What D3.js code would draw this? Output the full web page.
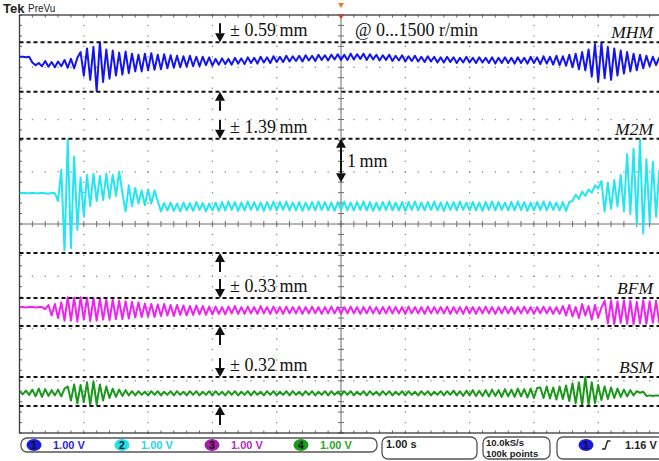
<!DOCTYPE html>
<html>
<head>
<meta charset="utf-8">
<script src="https://cdn.jsdelivr.net/npm/d3@7"></script>
<style>
body { margin: 0; background: #fff; }
svg { display: block; }
</style>
</head>
<body>
<div id="chart"></div>
<script>
var width = 659;
var height = 461;

// scope settings: 1.00 V/div, 1.00 s/div, 10 x 8 divisions
var dt = 0.05; // s between stored samples
var channelNames = ["MHM", "M2M", "BFM", "BSM"];
var amplitudeLabels = ["\u00b1 0.59\u2009mm", "\u00b1 1.39\u2009mm", "\u00b1 0.33\u2009mm", "\u00b1 0.32\u2009mm"];
var channelOffsets = [3.14, 0.34, -1.65, -3.23]; // div
var cursorHigh = [3.48, 1.63, -1.416, -2.928];  // div
var cursorLow = [2.53, -0.555, -1.952, -3.483];  // div
var refSpan = [1.63, 0.8]; // "1 mm" marker, div
var colors = ["#1414f0", "#22e6f0", "#f022f0", "#1a981a"];
var chipColors = ["#1a1ad8", "#22e0ec", "#a020a8", "#1a9a1a"];
var textColors = ["#2a2ad0", "#2ad4e4", "#b030c0", "#2aa82a"];
var voltsPerDiv = ["1.00 V", "1.00 V", "1.00 V", "1.00 V"];
var timeBase = "1.00 s";
var sampleRate = ["10.0kS/s", "100k points"];
var triggerLevel = "1.16 V";

// traces in volts, relative to channel offset
var mhm = [0.06,0.06,0.05,0.06,
  -0.05,-0.1,-0.06,-0.12,
  -0.02,-0.13,-0.04,-0.14,-0.03,-0.12,0.0,-0.15,0.02,-0.16,0.04,
  0.15,-0.3,0.22,-0.38,0.25,-0.6,0.34,-0.42,0.2,-0.36,
  0.18,-0.3,0.14,-0.28,0.16,-0.25,0.12,-0.22,0.1,
  -0.22,0.12,-0.2,0.13,-0.19,0.1,-0.18,0.11,-0.16,0.09,-0.15,
  0.08,-0.14,0.07,-0.13,0.08,-0.12,0.06,-0.12,0.06,-0.1,0.05,-0.11,
  0.02,-0.09,0.03,-0.08,0.02,-0.09,0.04,-0.07,0.03,-0.08,
  0.05,-0.06,0.04,-0.07,0.06,-0.05,0.05,-0.06,0.07,-0.04,
  0.06,-0.04,0.08,-0.03,0.07,-0.02,0.08,-0.03,0.09,-0.01,
  0.08,-0.02,0.1,0.0,0.09,-0.01,0.1,0.01,0.11,0.0,
  0.1,0.0,0.12,0.01,0.11,0.02,0.12,0.0,0.11,0.01,
  0.1,-0.01,0.09,0.0,0.1,-0.02,0.08,-0.01,0.09,-0.03,
  0.07,-0.02,0.08,-0.03,0.06,-0.04,0.07,-0.03,0.06,-0.05,
  0.05,-0.05,0.06,-0.04,0.05,-0.06,0.04,-0.05,0.06,-0.05,
  0.04,-0.06,0.05,-0.05,0.04,-0.06,0.05,-0.07,0.04,-0.06,
  0.05,-0.06,0.04,-0.07,0.05,-0.06,0.04,-0.07,0.06,-0.06,
  0.05,-0.08,0.07,-0.07,0.06,-0.09,0.08,-0.1,0.07,-0.11,
  0.1,-0.14,0.12,-0.18,0.15,-0.2,0.2,
  -0.32,0.3,-0.42,0.32,-0.35,0.25,-0.38,0.22,-0.3,
  0.18,-0.26,0.15,-0.22,0.12,-0.2,0.1,-0.16,0.08,
  -0.12,0.06,-0.1,0.05];

var m2m = [0.25,0.26,0.25,0.25,0.26,0.25,0.25,0.26,0.25,0.24,0.26,0.25,
  0.1,0.7,-0.84,1.28,-0.8,0.95,-0.45,
  0.55,-0.2,0.6,0.0,0.62,0.1,0.58,0.12,0.62,0.15,0.6,0.2,0.66,0.25,
  -0.1,0.4,0.0,0.35,0.05,0.3,0.02,0.32,0.05,0.3,0.1,
  -0.1,0.06,-0.08,0.07,-0.09,0.05,-0.1,0.07,-0.08,0.06,-0.09,0.08,-0.07,0.06,-0.1,0.05,-0.08,0.07,-0.09,
  0.08,-0.08,0.09,-0.07,0.08,-0.09,0.07,-0.08,0.09,-0.07,
  0.08,-0.08,0.07,-0.09,0.08,-0.07,0.09,-0.08,0.08,-0.07,
  0.09,-0.08,0.07,-0.08,0.08,-0.09,0.07,-0.07,0.08,-0.08,
  0.09,-0.07,0.08,-0.08,0.07,-0.09,0.08,-0.07,0.09,-0.08,
  0.07,-0.08,0.08,-0.07,0.09,-0.08,0.08,-0.09,0.07,-0.08,
  0.08,-0.07,0.09,-0.08,0.07,-0.08,0.08,-0.09,0.08,-0.07,
  0.09,-0.08,0.07,-0.08,0.08,-0.07,0.09,-0.08,0.07,-0.09,
  0.08,-0.07,0.08,-0.08,0.09,-0.07,0.07,-0.08,0.08,-0.08,
  0.07,-0.09,0.08,-0.07,0.09,-0.08,0.08,-0.07,0.07,-0.08,
  0.08,-0.08,0.09,-0.07,0.08,-0.09,0.07,-0.08,0.08,-0.07,
  0.09,-0.08,0.08,-0.07,0.07,-0.08,0.08,-0.09,0.08,
  0.1,0.22,0.14,0.28,0.2,0.32,0.26,0.4,0.34,0.48,
  -0.1,0.45,-0.05,0.5,0.0,0.6,-0.1,1.0,-0.15,1.1,-0.35,1.28,-0.52,0.9,-0.3,0.85,-0.2,0.7];

var bfm = [0.06,0.06,0.05,0.06,0.06,0.05,0.06,0.06,
  0.02,0.1,-0.1,0.12,-0.15,0.15,-0.2,
  0.25,-0.2,0.24,-0.22,0.25,-0.18,0.24,-0.21,0.23,-0.2,0.22,
  -0.18,0.2,-0.19,0.2,-0.17,0.18,-0.17,0.17,-0.16,0.16,-0.14,0.15,
  -0.13,0.13,-0.12,0.12,-0.13,0.11,-0.11,0.12,-0.1,0.1,-0.11,0.1,-0.09,0.09,-0.1,0.08,-0.09,0.09,-0.08,0.08,-0.09,0.07,-0.08,
  0.07,-0.07,0.06,-0.08,0.07,-0.06,0.08,-0.07,0.06,-0.07,
  0.07,-0.06,0.06,-0.07,0.08,-0.06,0.06,-0.07,0.07,-0.06,
  0.06,-0.07,0.07,-0.06,0.06,-0.06,0.07,-0.07,0.06,-0.06,
  0.07,-0.06,0.06,-0.07,0.06,-0.06,0.07,-0.06,0.06,-0.07,
  0.06,-0.06,0.07,-0.06,0.06,-0.07,0.06,-0.06,0.07,-0.06,
  0.06,-0.07,0.06,-0.06,0.07,-0.06,0.06,-0.06,0.06,-0.07,
  0.07,-0.06,0.06,-0.06,0.06,-0.07,0.07,-0.06,0.06,-0.06,
  0.06,-0.06,0.07,-0.07,0.06,-0.06,0.06,-0.07,0.07,-0.06,
  0.06,-0.07,0.06,-0.06,0.07,-0.06,0.06,-0.07,0.06,-0.06,
  0.07,-0.06,0.06,-0.07,0.06,-0.06,0.07,-0.06,0.06,-0.07,
  0.06,-0.06,0.07,-0.06,0.06,-0.07,0.06,
  -0.07,0.08,-0.1,0.1,-0.12,0.06,-0.15,0.12,-0.1,0.08,-0.18,0.1,-0.14,0.05,
  0.18,-0.25,0.19,-0.27,0.17,-0.24,0.19,-0.26,0.18,-0.27,0.16,-0.25,0.19,-0.26,0.17,-0.24,0.18,-0.25];

var bsm = [0.03,-0.03,0.04,-0.04,0.06,-0.07,0.08,-0.08,0.07,-0.06,0.05,-0.05,0.06,-0.07,0.08,
  0.12,-0.15,0.16,-0.2,0.15,-0.18,0.2,-0.23,0.22,-0.22,
  0.16,-0.15,0.12,-0.1,0.08,-0.08,0.06,-0.06,0.05,-0.05,
  0.03,-0.05,0.03,-0.04,0.02,-0.05,0.03,-0.04,0.03,-0.05,
  0.02,-0.04,0.03,-0.05,0.03,-0.04,0.02,-0.05,0.03,-0.04,
  0.03,-0.05,0.02,-0.04,0.03,-0.05,0.03,-0.04,0.02,-0.05,
  0.03,-0.04,0.03,-0.05,0.02,-0.04,0.03,-0.05,0.03,-0.04,
  0.02,-0.05,0.03,-0.04,0.03,-0.05,0.02,-0.04,0.03,-0.05,
  0.03,-0.04,0.02,-0.05,0.03,-0.04,0.03,-0.05,0.02,-0.04,
  0.03,-0.05,0.03,-0.04,0.02,-0.05,0.03,-0.04,0.03,-0.05,
  0.02,-0.04,0.03,-0.05,0.03,-0.04,0.02,-0.05,0.03,-0.04,
  0.03,-0.05,0.02,-0.04,0.03,-0.05,0.03,-0.04,0.02,-0.05,
  0.03,-0.04,0.03,-0.05,0.02,-0.04,0.03,-0.05,0.03,-0.04,
  0.04,-0.05,0.03,-0.06,0.04,-0.05,0.05,-0.06,0.04,-0.06,
  0.05,-0.07,0.06,-0.06,0.05,-0.08,0.07,-0.07,0.06,-0.08,
  0.08,-0.07,0.07,-0.09,0.08,-0.1,0.09,
  0.1,-0.1,0.12,-0.11,0.1,-0.13,0.12,-0.12,0.14,
  -0.16,0.18,-0.2,0.2,-0.24,0.3,-0.23,0.2,-0.2,
  0.15,-0.14,0.12,-0.12,0.1,-0.1,0.08,-0.08,0.06,-0.07,0.05,-0.05,
  0.03,0.0,0.02,-0.06,-0.05,-0.06,-0.05,-0.06];

var traces = [mhm, m2m, bfm, bsm];

// layout
var plot = { left: 19.5, right: 662.5, top: 15, bottom: 433 };
var arrowX = 220, labelX = 230, arrowLen = 19;

var x = d3.scaleLinear().domain([0, 10]).range([plot.left, plot.right]);
var y = d3.scaleLinear().domain([-4, 4]).range([plot.bottom, plot.top]);

var svg = d3.select("#chart").append("svg")
  .attr("width", width)
  .attr("height", height)
  .style("font-family", "'Liberation Serif', serif");

svg.append("defs").append("clipPath").attr("id", "clip")
  .append("rect")
  .attr("x", plot.left).attr("y", plot.top)
  .attr("width", plot.right - plot.left).attr("height", plot.bottom - plot.top);

// dotted graticule
var minorX = d3.range(0, 10.001, 0.2);
var minorY = d3.range(-4, 4.001, 0.2);
var grid = svg.append("g").attr("fill", "#8a8a8a");
d3.range(1, 10).forEach(function(k) {
  if (k === 5) return;
  grid.selectAll(null).data(minorY).enter().append("rect")
    .attr("x", x(k) - 0.6).attr("y", d => y(d) - 0.6)
    .attr("width", 1.3).attr("height", 1.3);
});
d3.range(-3, 4).forEach(function(k) {
  if (k === 0) return;
  grid.selectAll(null).data(minorX).enter().append("rect")
    .attr("x", d => x(d) - 0.6).attr("y", y(k) - 0.6)
    .attr("width", 1.3).attr("height", 1.3);
});

// centre cross with ticks
var cross = svg.append("g").attr("stroke", "#6e6e6e").attr("stroke-width", 1);
cross.append("line").attr("x1", plot.left).attr("x2", plot.right).attr("y1", y(0)).attr("y2", y(0));
cross.append("line").attr("x1", x(5)).attr("x2", x(5)).attr("y1", plot.top).attr("y2", plot.bottom);
cross.selectAll(null).data(minorX).enter().append("line")
  .attr("x1", d => x(d)).attr("x2", d => x(d)).attr("y1", y(0) - 3).attr("y2", y(0) + 3);
cross.selectAll(null).data(minorY).enter().append("line")
  .attr("x1", x(5) - 3).attr("x2", x(5) + 3).attr("y1", d => y(d)).attr("y2", d => y(d));

// border with ticks
var border = svg.append("g").attr("stroke", "#3a3a3a");
border.append("rect")
  .attr("x", plot.left).attr("y", plot.top)
  .attr("width", plot.right - plot.left).attr("height", plot.bottom - plot.top)
  .attr("fill", "none").attr("stroke-width", 1.3);
border.selectAll(null).data(minorX).enter().append("line")
  .attr("stroke-width", 0.8)
  .attr("x1", d => x(d)).attr("x2", d => x(d)).attr("y1", plot.top).attr("y2", plot.top + 2.5);
border.selectAll(null).data(minorX).enter().append("line")
  .attr("stroke-width", 0.8)
  .attr("x1", d => x(d)).attr("x2", d => x(d)).attr("y1", plot.bottom).attr("y2", plot.bottom - 2.5);
border.selectAll(null).data(minorY).enter().append("line")
  .attr("stroke-width", 0.8)
  .attr("x1", plot.left).attr("x2", plot.left + 2.5).attr("y1", d => y(d)).attr("y2", d => y(d));

// traces
var traceG = svg.append("g").attr("clip-path", "url(#clip)");
traces.forEach(function(tr, c) {
  var line = d3.line()
    .x((d, i) => x(i * dt))
    .y(d => y(channelOffsets[c] + d));
  traceG.append("path")
    .datum(tr)
    .attr("d", line)
    .attr("fill", "none")
    .attr("stroke", colors[c])
    .attr("stroke-width", 2)
    .attr("stroke-linejoin", "round");
});

// cursor lines
var cursors = cursorHigh.concat(cursorLow);
svg.append("g").selectAll("line").data(cursors).enter().append("line")
  .attr("x1", plot.left).attr("x2", width)
  .attr("y1", d => y(d)).attr("y2", d => y(d))
  .attr("stroke", "#111").attr("stroke-width", 2)
  .attr("stroke-dasharray", "4,3");

function arrow(g, ax, tipY, dir, len) {
  // dir = +1 points down, -1 points up
  var tailY = tipY - dir * (len || arrowLen);
  var headY = tipY - dir * 9;
  g.append("line").attr("x1", ax).attr("x2", ax).attr("y1", tailY).attr("y2", headY)
    .attr("stroke", "#111").attr("stroke-width", 2);
  g.append("path")
    .attr("d", "M" + (ax - 5) + "," + headY + "L" + (ax + 5) + "," + headY + "L" + ax + "," + tipY + "Z")
    .attr("fill", "#111");
}

var ann = svg.append("g");
channelNames.forEach(function(name, c) {
  var hi = y(cursorHigh[c]), lo = y(cursorLow[c]);
  arrow(ann, arrowX, hi, 1);
  arrow(ann, arrowX, lo, -1);
  ann.append("text").attr("x", labelX).attr("y", hi - 6)
    .attr("font-size", 18).attr("fill", "#111").text(amplitudeLabels[c]);
  ann.append("text").attr("x", 653).attr("y", hi - 4)
    .attr("text-anchor", "end").attr("font-style", "italic")
    .attr("font-size", 17.5).attr("fill", "#111").text(name);
});

// 1 mm reference
var top1 = y(refSpan[0]), bot1 = y(refSpan[1]);
var mid = (top1 + bot1) / 2;
arrow(ann, x(5), top1, -1, mid - top1);
arrow(ann, x(5), bot1, 1, bot1 - mid);
ann.append("text").attr("x", x(5) + 6).attr("y", mid + 6)
  .attr("font-size", 18).attr("fill", "#111").text("1\u2009mm");

ann.append("text").attr("x", 355).attr("y", y(cursorHigh[0]) - 6)
  .attr("font-size", 18).attr("fill", "#111").text("@ 0...1500 r/min");

// trigger position markers
svg.append("path").attr("d", "M" + (x(5) - 3) + ",3L" + (x(5) + 3) + ",3L" + x(5) + ",8Z").attr("fill", "#f07a20");
svg.append("path").attr("d", "M" + (x(5) - 3) + "," + plot.top + "L" + (x(5) + 3) + "," + plot.top + "L" + x(5) + "," + (plot.top + 4) + "Z").attr("fill", "#e8401a");

// Tek header
var head = svg.append("g").style("font-family", "'Liberation Sans', Arial, sans-serif").attr("fill", "#222");
head.append("text").attr("x", 3).attr("y", 13).attr("font-size", 13).attr("font-weight", "bold").text("Tek");
head.append("text").attr("x", 28).attr("y", 12).attr("font-size", 10).text("PreVu");

// status bar
var bar = svg.append("g").style("font-family", "'Liberation Sans', Arial, sans-serif").attr("font-size", 11).attr("font-weight", "bold");
function box(x0, x1, y0, y1) {
  bar.append("rect").attr("x", x0).attr("y", y0).attr("width", x1 - x0).attr("height", y1 - y0)
    .attr("rx", 6).attr("fill", "none").attr("stroke", "#555").attr("stroke-width", 1.3);
}
box(21, 377, 438, 452);
box(382, 477, 437, 459);
box(483, 550, 437, 459);
box(557, 670, 437, 459);
var chipX = [34, 122, 212, 301];
voltsPerDiv.forEach(function(v, c) {
  bar.append("ellipse").attr("cx", chipX[c]).attr("cy", 445).attr("rx", 7.5).attr("ry", 6).attr("fill", chipColors[c]);
  bar.append("text").attr("x", chipX[c]).attr("y", 449).attr("text-anchor", "middle").attr("font-size", 10.5).attr("fill", "#111").text(c + 1);
  bar.append("text").attr("x", chipX[c] + 19).attr("y", 449).attr("fill", textColors[c]).text(v);
});
bar.append("text").attr("x", 386).attr("y", 448).attr("fill", "#222").text(timeBase);
bar.append("text").attr("x", 486).attr("y", 446).attr("font-size", 9.5).attr("fill", "#222").text(sampleRate[0]);
bar.append("text").attr("x", 486).attr("y", 456.5).attr("font-size", 9.5).attr("fill", "#222").text(sampleRate[1]);
bar.append("ellipse").attr("cx", 586).attr("cy", 445).attr("rx", 7.5).attr("ry", 6).attr("fill", chipColors[0]);
bar.append("text").attr("x", 586).attr("y", 449).attr("text-anchor", "middle").attr("font-size", 10.5).attr("fill", "#111").text("1");
bar.append("path").attr("d", "M602,449 L605,449 L607.5,441 L610.5,441").attr("fill", "none").attr("stroke", "#222").attr("stroke-width", 1.4);
bar.append("text").attr("x", 625).attr("y", 449).attr("fill", "#222").text(triggerLevel);
</script>
</body>
</html>
